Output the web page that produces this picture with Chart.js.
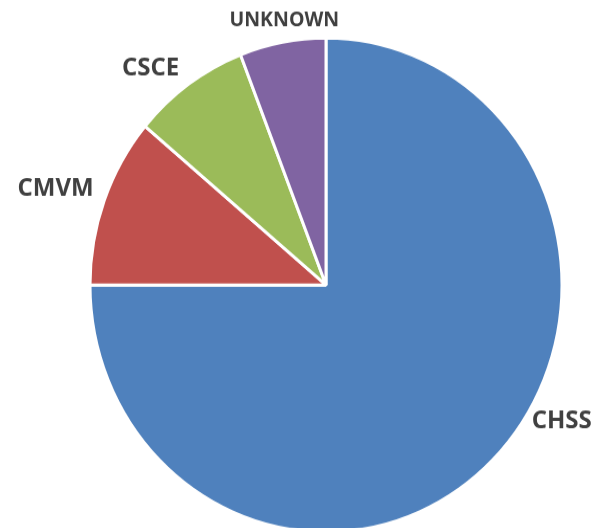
<!DOCTYPE html>
<html lang="en">
<head>
    <meta charset="UTF-8">
    <title>Pie</title>
    <style>
        body {
            margin: 0;
            padding: 0;
            background: #fff;
            overflow: hidden;
        }

        #wrap {
            width: 610px;
            height: 528px;
            overflow: hidden;
        }

        #stretch {
            transform: scaleY(1.047);
            transform-origin: 0 0;
        }
    </style>
</head>
<body>
    <div id="wrap">
        <div id="stretch">
            <canvas id="grafico" width="610" height="520"></canvas>
        </div>
    </div>

    <script src="https://cdn.jsdelivr.net/npm/chart.js"></script>
    <script>
        var categorias = ['CHSS', 'CMVM', 'CSCE', 'UNKNOWN'];
        var valores = [75.0, 11.1, 8.0, 5.9];
        var cores = ['#4F81BD', '#C0504D', '#9BBB59', '#8064A2'];

        // where each label sits: fraction across its slice, distance as share of radius
        var posRotulos = [
            { frac: 0.44, dist: 1.14, font: 24 },
            { frac: 0.47, dist: 1.21, font: 24 },
            { frac: 0.34, dist: 1.15, font: 24 },
            { frac: 0.56, dist: 1.087, font: 19.5 }
        ];

        var rotulosPlugin = {
            id: 'rotulos',
            afterDraw: function(chart) {
                var ctx = chart.ctx;
                var meta = chart.getDatasetMeta(0);
                ctx.save();
                ctx.fillStyle = '#404040';
                ctx.textAlign = 'center';
                ctx.textBaseline = 'middle';
                meta.data.forEach(function(arc, i) {
                    var p = arc.getProps(['x', 'y', 'startAngle', 'endAngle', 'outerRadius'], true);
                    var cfg = posRotulos[i];
                    var ang = p.startAngle + (p.endAngle - p.startAngle) * cfg.frac;
                    var r = p.outerRadius * cfg.dist;
                    ctx.font = 'bold ' + cfg.font + 'px "Open Sans"';
                    ctx.fillText(chart.data.labels[i], p.x + Math.cos(ang) * r, p.y + Math.sin(ang) * r);
                });
                ctx.restore();
            }
        };

        var grafico = new Chart(document.getElementById('grafico').getContext('2d'), {
            type: 'pie',
            data: {
                labels: categorias,
                datasets: [{
                    data: valores,
                    backgroundColor: cores,
                    borderColor: '#ffffff',
                    borderWidth: 3,
                    radius: 236
                }]
            },
            options: {
                responsive: false,
                devicePixelRatio: 1,
                animation: false,
                layout: {
                    padding: { left: 92, right: 50, top: 40, bottom: 15.6 }
                },
                plugins: {
                    legend: { display: false },
                    tooltip: { enabled: false }
                }
            },
            plugins: [rotulosPlugin]
        });
    </script>
</body>
</html>
